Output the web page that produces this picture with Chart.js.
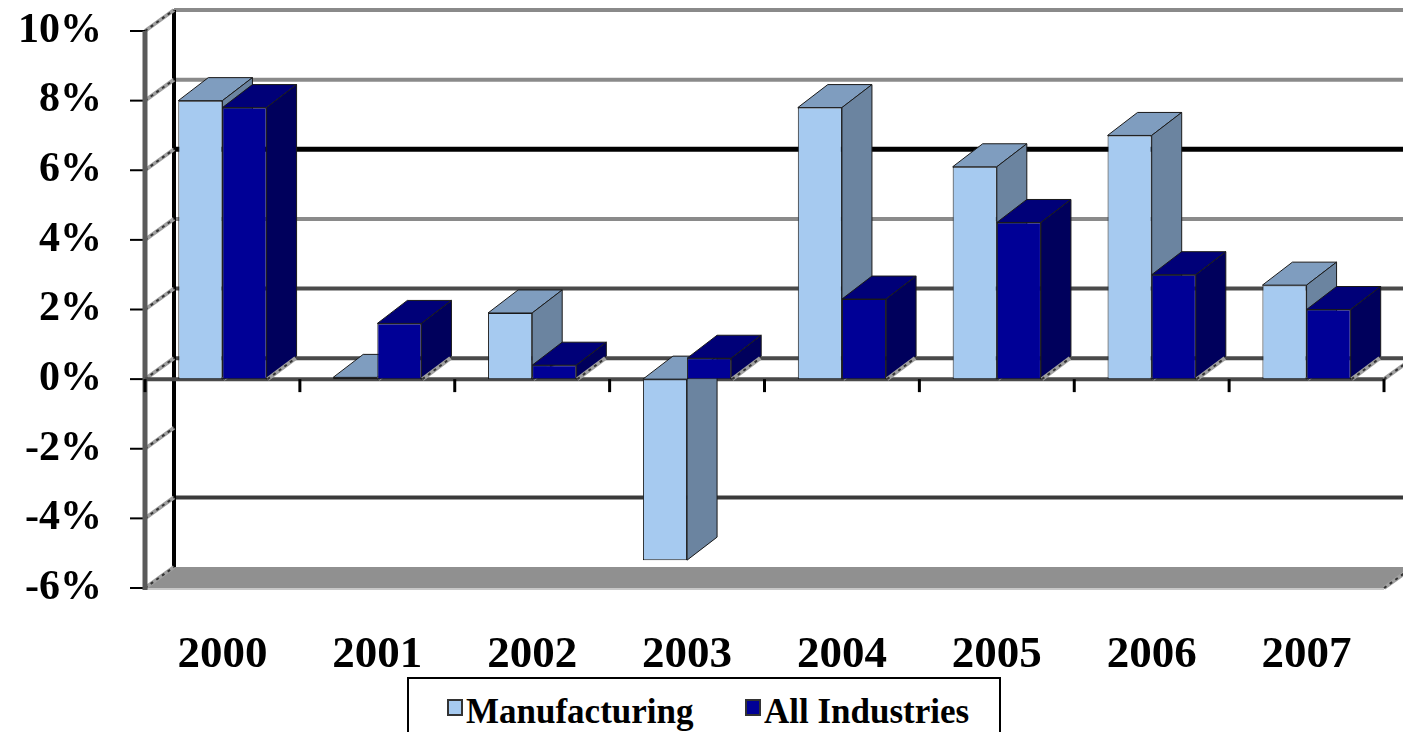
<!DOCTYPE html>
<html>
<head>
<meta charset="utf-8">
<script src="https://cdn.jsdelivr.net/npm/chart.js@4.4.0/dist/chart.umd.min.js"></script>
<style>
    html, body { margin: 0; padding: 0; background: #fff; }
    #wrap { position: relative; width: 1403px; height: 732px; overflow: hidden; }
    #legend {
        position: absolute; left: 407px; top: 677px; width: 590px; height: 80px;
        border: 2px solid #000; background: #fff;
        font: bold 35px 'Liberation Serif', 'Times New Roman', serif; color: #000;
    }
    .item { position: absolute; top: 15px; line-height: 35px; white-space: nowrap; }
    .sw { position: absolute; top: 5px; width: 12px; height: 13px; border: 2px solid #333; }
</style>
</head>
<body>
<div id="wrap">
    <canvas id="chart" width="1403" height="732"></canvas>
    <div id="legend">
        <div class="item" style="left:38px;"><span class="sw" style="left:0;background:#A6CAF0"></span><span style="margin-left:19px">Manufacturing</span></div>
        <div class="item" style="left:336px;"><span class="sw" style="left:0;background:#000096"></span><span style="margin-left:19px">All Industries</span></div>
    </div>
</div>
<script>
// values, percent change per year
const years = ['2000', '2001', '2002', '2003', '2004', '2005', '2006', '2007'];
const manufacturing = [8.0, 0.05, 1.9, -5.2, 7.8, 6.1, 7.0, 2.7];
const allIndustries = [7.8, 1.6, 0.4, 0.6, 2.3, 4.5, 3.0, 2.0];

const serif = 'Liberation Serif';

// 3D look: depth offset of bars and of the walls
const BAR_DX = 30, BAR_DY = -23;
const WALL_DX = 29, WALL_DY = -21;

const faceColors = [
    { top: '#7F9DBF', side: '#6B84A0' },
    { top: '#000078', side: '#00005C' },
];

function poly(ctx, pts, fill) {
    ctx.beginPath();
    ctx.moveTo(pts[0][0], pts[0][1]);
    for (let i = 1; i < pts.length; i++) ctx.lineTo(pts[i][0], pts[i][1]);
    ctx.closePath();
    ctx.fillStyle = fill;
    ctx.fill();
    ctx.lineWidth = 1;
    ctx.strokeStyle = '#1a1a1a';
    ctx.stroke();
}

function line(ctx, x1, y1, x2, y2, color, width, dash) {
    ctx.save();
    ctx.beginPath();
    ctx.setLineDash(dash || []);
    ctx.moveTo(x1, y1);
    ctx.lineTo(x2, y2);
    ctx.strokeStyle = color;
    ctx.lineWidth = width;
    ctx.stroke();
    ctx.restore();
}

function ladder(ctx, x, y, dx, dy) {
    line(ctx, x, y, x + dx, y + dy, '#a0a0a0', 4);
    line(ctx, x, y, x + dx, y + dy, '#333', 2, [3, 4]);
}

function drawWalls(chart) {
    const { ctx, chartArea: a, scales: { y } } = chart;
    const W = chart.width;

    // floor at the axis minimum
    const yMin = y.getPixelForValue(y.min);
    ctx.beginPath();
    ctx.moveTo(a.left, yMin);
    ctx.lineTo(a.right, yMin);
    ctx.lineTo(a.right + WALL_DX, yMin + WALL_DY);
    ctx.lineTo(a.left + WALL_DX, yMin + WALL_DY);
    ctx.closePath();
    ctx.fillStyle = '#909090';
    ctx.fill();
    line(ctx, a.left, yMin + 1, a.right, yMin + 1, '#c8c8c8', 2);

    // back wall gridlines (the -2% one is missing in the original too)
    const gridStyle = { '10': ['#8a8a8a', 4], '8': ['#8a8a8a', 4], '6': ['#000', 5], '4': ['#8a8a8a', 4],
        '2': ['#4a4a4a', 4], '0': ['#4a4a4a', 4], '-4': ['#3a3a3a', 4] };
    for (const v in gridStyle) {
        const py = y.getPixelForValue(+v) + WALL_DY;
        line(ctx, a.left + WALL_DX, py, W, py, gridStyle[v][0], gridStyle[v][1]);
    }

    // back vertical edge of the wall
    line(ctx, a.left + WALL_DX, y.getPixelForValue(y.max) + WALL_DY, a.left + WALL_DX, yMin + WALL_DY, '#000', 4);

    // side wall ladders + front value axis
    y.ticks.forEach(t => {
        const py = y.getPixelForValue(t.value);
        ladder(ctx, a.left, py, WALL_DX, WALL_DY);
        line(ctx, a.left - 15, py, a.left, py, '#000', 2);
    });
    line(ctx, a.left, y.getPixelForValue(y.max), a.left, yMin + 2, '#5a5a5a', 5);

    // category axis at zero, front plane
    const y0 = y.getPixelForValue(0);
    line(ctx, a.left, y0, a.right, y0, '#4a4a4a', 4);
    ladder(ctx, a.right, y0, WALL_DX, WALL_DY);
    ladder(ctx, a.right, yMin, WALL_DX, WALL_DY);
    const step = (a.right - a.left) / years.length;
    for (let k = 0; k <= years.length; k++) {
        const px = a.left + k * step;
        line(ctx, px, y0, px, y0 + 13, '#000', 3);
    }
}

// front face from Chart.js, then top and side faces
function drawBar(ctx, bar, c) {
    bar.draw(ctx);
    const l = bar.x - bar.width / 2, r = bar.x + bar.width / 2;
    const top = Math.min(bar.y, bar.base), bot = Math.max(bar.y, bar.base);
    poly(ctx, [[l, top], [l + BAR_DX, top + BAR_DY], [r + BAR_DX, top + BAR_DY], [r, top]], c.top);
    poly(ctx, [[r, top], [r + BAR_DX, top + BAR_DY], [r + BAR_DX, bot + BAR_DY], [r, bot]], c.side);
    if (bar.y < bar.base) ladder(ctx, r + 1, bot, BAR_DX - 2, BAR_DY + 2);
}

const threeDPlugin = {
    id: 'threeD',
    beforeDatasetsDraw(chart) {
        const { ctx } = chart;
        ctx.save();
        drawWalls(chart);
        // category by category, left series first so the right one covers its side
        const metas = [chart.getDatasetMeta(0), chart.getDatasetMeta(1)];
        for (let i = 0; i < years.length; i++) {
            metas.forEach((m, k) => drawBar(ctx, m.data[i], faceColors[k]));
        }
        ctx.restore();
        return false;
    },
};

new Chart(document.getElementById('chart').getContext('2d'), {
    type: 'bar',
    data: {
        labels: years,
        datasets: [
            {
                label: 'Manufacturing',
                data: manufacturing,
                backgroundColor: '#A6CAF0',
                borderColor: '#1a1a1a',
                borderWidth: 1,
                borderSkipped: false,
                barPercentage: 1,
                categoryPercentage: 0.57,
            },
            {
                label: 'All Industries',
                data: allIndustries,
                backgroundColor: '#000096',
                borderColor: '#1a1a1a',
                borderWidth: 1,
                borderSkipped: false,
                barPercentage: 1,
                categoryPercentage: 0.57,
            },
        ],
    },
    options: {
        responsive: false,
        animation: false,
        layout: { padding: { top: 31, right: 19, left: 0, bottom: 0 } },
        plugins: { legend: { display: false }, tooltip: { enabled: false } },
        scales: {
            x: {
                grid: { display: false, drawTicks: false },
                border: { display: false },
                ticks: { color: '#000', font: { family: serif, weight: 'bold', size: 45 }, padding: 40, maxRotation: 0 },
                afterFit: (s) => { s.height = 144; s.paddingLeft = 0; s.paddingRight = 0; },
            },
            y: {
                min: -6,
                max: 10,
                grid: { display: false, drawTicks: false },
                border: { display: false },
                ticks: {
                    stepSize: 2,
                    color: '#000',
                    font: { family: serif, weight: 'bold', size: 42 },
                    padding: 43,
                    callback: (v) => v + '%',
                },
                afterFit: (s) => { s.width = 145; s.paddingTop = 0; s.paddingBottom = 0; },
            },
        },
    },
    plugins: [threeDPlugin],
});
</script>
</body>
</html>
